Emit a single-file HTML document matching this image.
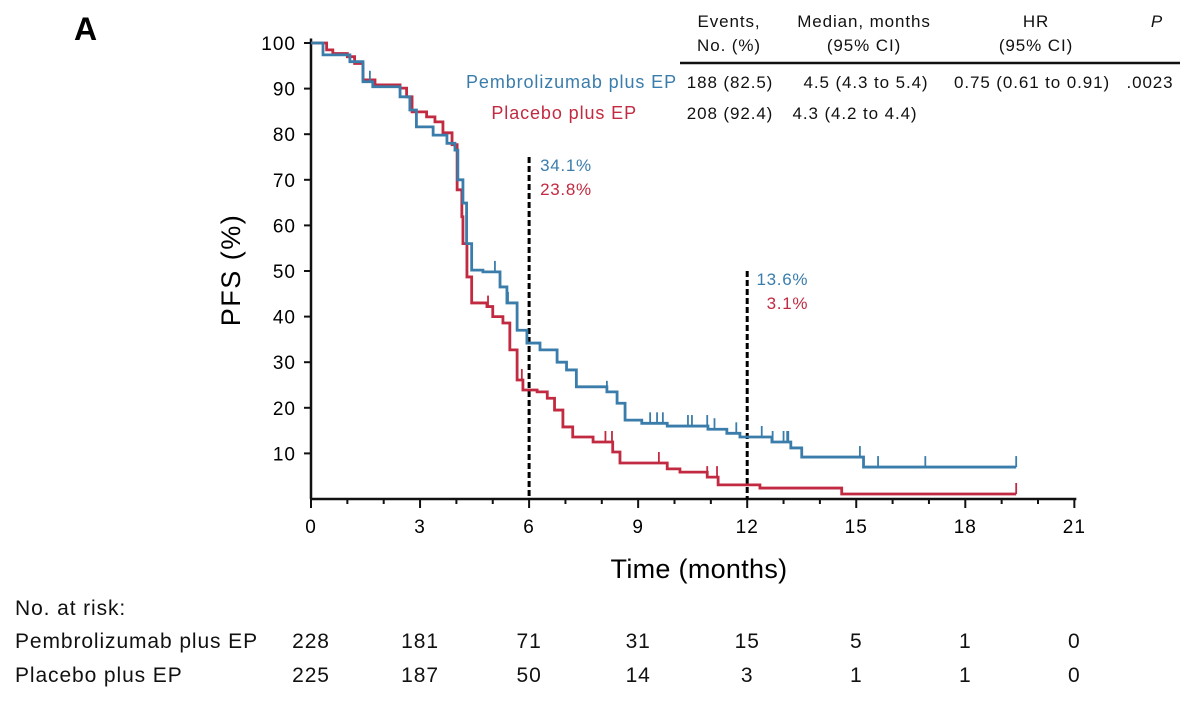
<!DOCTYPE html>
<html><head><meta charset="utf-8"><style>
html,body{margin:0;padding:0;background:#fff;}
svg{display:block;font-family:"Liberation Sans",sans-serif;}
</style></head><body>
<svg id="c" width="1200" height="707" viewBox="0 0 1200 707">
<text x="74" y="40" font-size="32" font-weight="bold">A</text>
<g id="tbl" font-size="17" letter-spacing="0.9" fill="#111" text-anchor="middle">
<text x="729" y="27">Events,</text><text x="729" y="51">No. (%)</text>
<text x="864" y="27">Median, months</text><text x="864" y="51">(95% CI)</text>
<text x="1036" y="27">HR</text><text x="1036" y="51">(95% CI)</text>
<text x="1157" y="27" font-style="italic">P</text>
<line x1="680" y1="63" x2="1180" y2="63" stroke="#111" stroke-width="2.5"/>
<text x="677" y="88" text-anchor="end" fill="#3a7dab" font-size="18">Pembrolizumab plus EP</text>
<text x="637" y="119" text-anchor="end" fill="#c12a40" font-size="18">Placebo plus EP</text>
<text x="730" y="88">188 (82.5)</text><text x="866" y="88">4.5 (4.3 to 5.4)</text><text x="1032" y="88">0.75 (0.61 to 0.91)</text><text x="1150" y="88">.0023</text>
<text x="730" y="119">208 (92.4)</text><text x="855" y="119">4.3 (4.2 to 4.4)</text>
</g>
<g id="axes"></g>
<g id="curves"></g>
<text x="699" y="578" font-size="27" letter-spacing="0.3" text-anchor="middle">Time (months)</text>
<text transform="translate(240,270) rotate(-90)" font-size="27" letter-spacing="1.5" text-anchor="middle">PFS (%)</text>
<g id="risk" font-size="21" letter-spacing="0.9" fill="#111">
<text x="15" y="615">No. at risk:</text>
<text x="15" y="648">Pembrolizumab plus EP</text>
<text x="15" y="682">Placebo plus EP</text>
</g>
</svg>
<script>
const xTicks=[0,3,6,9,12,15,18,21];
const yTicks=[10,20,30,40,50,60,70,80,90,100];
const pembroT=[0,0.33,1.07,1.43,1.7,2.45,2.72,2.9,3.36,3.74,3.96,4.04,4.18,4.28,4.42,4.73,5.2,5.39,5.67,5.94,6.3,6.77,7.03,7.3,8.14,8.42,8.64,9.1,9.8,10.92,11.44,11.8,12.68,13.2,13.5,15.2,19.4];
const pembroV=[100,97.4,95.9,91.5,90.4,88.2,85.3,81.6,79.8,78,76.5,70,64.9,56,50.2,49.8,46.5,43,37,34.2,32.7,30,28.3,24.6,23.5,21,17.3,16.6,16,15.3,14.4,13.6,12.5,11.2,9.2,7.0,7.0];
const placeboT=[0,0.43,0.6,1,1.2,1.43,1.76,2.45,2.63,2.78,3.18,3.41,3.63,3.88,4.02,4.15,4.18,4.29,4.42,4.84,5.0,5.28,5.47,5.67,5.83,6.22,6.5,6.7,6.93,7.2,7.76,8.3,8.5,9.8,10.15,10.9,11.2,12.35,14.6,19.4];
const placeboV=[100,98.5,97.7,97,95.5,91.9,90.8,90.1,88.2,84.9,83.8,82.7,80.3,77.7,67.8,61.9,56,48.7,43,42.2,40,38.6,32.7,26.1,23.9,23.5,22.1,19.5,15.8,13.6,12.5,10.3,7.9,6.6,5.9,4.8,3.1,2.4,1.1,1.1];
const pembroCens=[1.62,5.06,5.42,8.14,9.33,9.52,9.68,10.37,10.48,10.9,11.1,11.7,12.4,12.7,13.0,13.1,13.13,15.1,15.6,16.9,19.4];
const placeboCens=[4.87,5.8,8.1,8.28,9.57,10.9,11.17,19.4];
const riskPembro=[228,181,71,31,15,5,1,0];
const riskPlacebo=[225,187,50,14,3,1,1,0];
const landmarks=[6,12];
const landmarkTop=[75,50];
const landPembro=["34.1%","13.6%"];
const landPlacebo=["23.8%","3.1%"];
const X=t=>311+t*36.35, Y=v=>499-v*4.56;
const NS="http://www.w3.org/2000/svg";
function mk(tag,attrs,parent){const e=document.createElementNS(NS,tag);for(const k in attrs)e.setAttribute(k,attrs[k]);parent.appendChild(e);return e;}
const ax=document.getElementById('axes');
let a=mk('line',{x1:X(0),y1:Y(0),x2:X(21)+2,y2:Y(0),stroke:'#111','stroke-width':2.5},ax);


a=mk('line',{x1:X(0),y1:Y(0),x2:X(0),y2:Y(101),stroke:'#111','stroke-width':2.5},ax);


for(let m=0;m<=21;m++){mk('line',{x1:X(m),y1:Y(0),x2:X(m),y2:Y(0)+(m%3==0?9:5),stroke:'#111','stroke-width':2},ax);}
xTicks.forEach(t=>{const e=mk('text',{x:X(t),y:533,'font-size':19,'letter-spacing':1,'text-anchor':'middle'},ax);e.textContent=t;

});
yTicks.forEach(v=>{mk('line',{x1:X(0)-7,y1:Y(v),x2:X(0),y2:Y(v),stroke:'#111','stroke-width':2},ax);
const e=mk('text',{x:X(0)-15,y:Y(v)+7,'font-size':19,'letter-spacing':1,'text-anchor':'end'},ax);e.textContent=v;

});
const cv=document.getElementById('curves');
landmarks.forEach((t,i)=>{const l=mk('line',{x1:X(t),y1:Y(landmarkTop[i]),x2:X(t),y2:Y(0),stroke:'#000','stroke-width':3,'stroke-dasharray':'6 3'},cv);


const right=i==0?null:X(t)+61;
let e=mk('text',{x:i==0?X(t)+11:right,y:Y(landmarkTop[i])+14,'font-size':17,'letter-spacing':0.7,fill:'#3a7dab','text-anchor':i==0?'start':'end'},cv);e.textContent=landPembro[i];


e=mk('text',{x:i==0?X(t)+11:right,y:Y(landmarkTop[i])+38,'font-size':17,'letter-spacing':0.7,fill:'#c12a40','text-anchor':i==0?'start':'end'},cv);e.textContent=landPlacebo[i];

});
function stepAt(T,V,t){let v=V[0];for(let i=0;i<T.length;i++){if(T[i]<=t)v=V[i];}return v;}
function curve(T,V,C,col,name){let d='M'+X(T[0])+','+Y(V[0]);for(let i=1;i<T.length;i++){d+='H'+X(T[i])+'V'+Y(V[i]);}
const p=mk('path',{d:d,fill:'none',stroke:col,'stroke-width':2.8},cv);


C.forEach(t=>{const y=Y(stepAt(T,V,t));const c=mk('line',{x1:X(t),y1:y,x2:X(t),y2:y-11,stroke:col,'stroke-width':1.8},cv);

});}
curve(placeboT,placeboV,placeboCens,'#c12a40','placebo');
curve(pembroT,pembroV,pembroCens,'#3a7dab','pembro');
const rk=document.getElementById('risk');
xTicks.forEach((t,i)=>{let e=mk('text',{x:X(t),y:648,'text-anchor':'middle'},rk);e.textContent=riskPembro[i];


e=mk('text',{x:X(t),y:682,'text-anchor':'middle'},rk);e.textContent=riskPlacebo[i];

});
</script>
</body></html>
